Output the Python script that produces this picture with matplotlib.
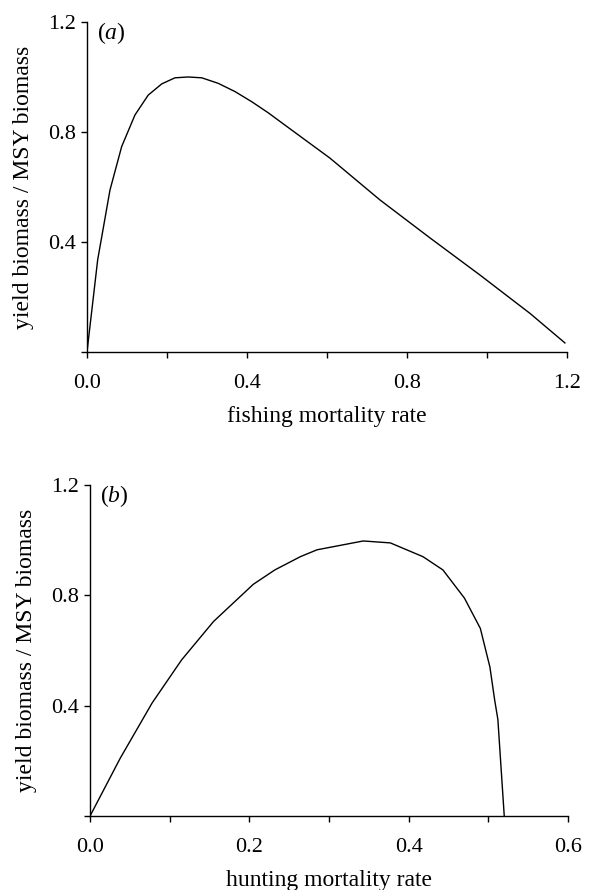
import matplotlib
matplotlib.use('Agg')
import matplotlib.pyplot as plt

plt.rcParams['font.family'] = ['Liberation Serif', 'DejaVu Serif']
plt.rcParams['mathtext.fontset'] = 'custom'
plt.rcParams['mathtext.rm'] = 'Liberation Serif'
plt.rcParams['mathtext.it'] = 'Liberation Serif:italic'

# panel (a): fishing
fish_rate = [0.0, 0.0267, 0.0575, 0.0867, 0.12, 0.153, 0.187, 0.22, 0.253, 0.287,
             0.328, 0.37, 0.412, 0.453, 0.495, 0.6075, 0.7325, 0.8575, 0.9825,
             1.108, 1.195]
fish_yield = [0.0, 0.335, 0.589, 0.747, 0.862, 0.934, 0.975, 0.997, 1.0, 0.997,
              0.977, 0.947, 0.91, 0.87, 0.825, 0.705, 0.553, 0.415, 0.28,
              0.14, 0.033]

# panel (b): hunting
hunt_rate = [0.0, 0.038, 0.078, 0.115, 0.155, 0.205, 0.232, 0.264, 0.285, 0.343,
             0.377, 0.418, 0.443, 0.47, 0.49, 0.502, 0.508, 0.512, 0.52]
hunt_yield = [0.0, 0.21, 0.41, 0.566, 0.705, 0.84, 0.892, 0.94, 0.965, 0.997,
              0.99, 0.94, 0.892, 0.79, 0.68, 0.54, 0.42, 0.35, 0.0]

fig = plt.figure(figsize=(5.93, 8.9), dpi=100)
ax1 = fig.add_axes([0.1467, 0.6045, 0.8093, 0.3708])
ax2 = fig.add_axes([0.1518, 0.0831, 0.8060, 0.3720])


def style(ax, xmax, major, minor, xlabel, tag):
    ax.set_xlim(0, xmax)
    ax.set_ylim(0, 1.2)
    for s in ['top', 'right']:
        ax.spines[s].set_visible(False)
    for s in ['left', 'bottom']:
        ax.spines[s].set_linewidth(1.0)
    ax.set_xticks(major)
    ax.set_xticklabels(['%.1f' % v for v in major])
    ax.set_xticks(minor, minor=True)
    ax.set_yticks([0, 0.4, 0.8, 1.2])
    ax.set_yticklabels(['', '0.4', '0.8', '1.2'])
    ax.tick_params(which='both', direction='out', length=4, width=1, labelsize=16, pad=12)
    ax.tick_params(axis='y', pad=4)
    ax.set_xlabel(xlabel, fontsize=17, labelpad=9)
    ax.set_ylabel('yield biomass / MSY biomass', fontsize=17, labelpad=10)
    ax.text(0.02, 1.005, r'($\mathit{' + tag + '}$)', transform=ax.transAxes,
            fontsize=17, va='top', ha='left')


ax1.plot(fish_rate, fish_yield, color='black', linewidth=1.0)
style(ax1, 1.2, [0.0, 0.4, 0.8, 1.2], [0.2, 0.6, 1.0], 'fishing mortality rate', 'a')

ax2.plot(hunt_rate, hunt_yield, color='black', linewidth=1.0)
style(ax2, 0.6, [0.0, 0.2, 0.4, 0.6], [0.1, 0.3, 0.5], 'hunting mortality rate', 'b')

fig.savefig('out.png', dpi=100)
